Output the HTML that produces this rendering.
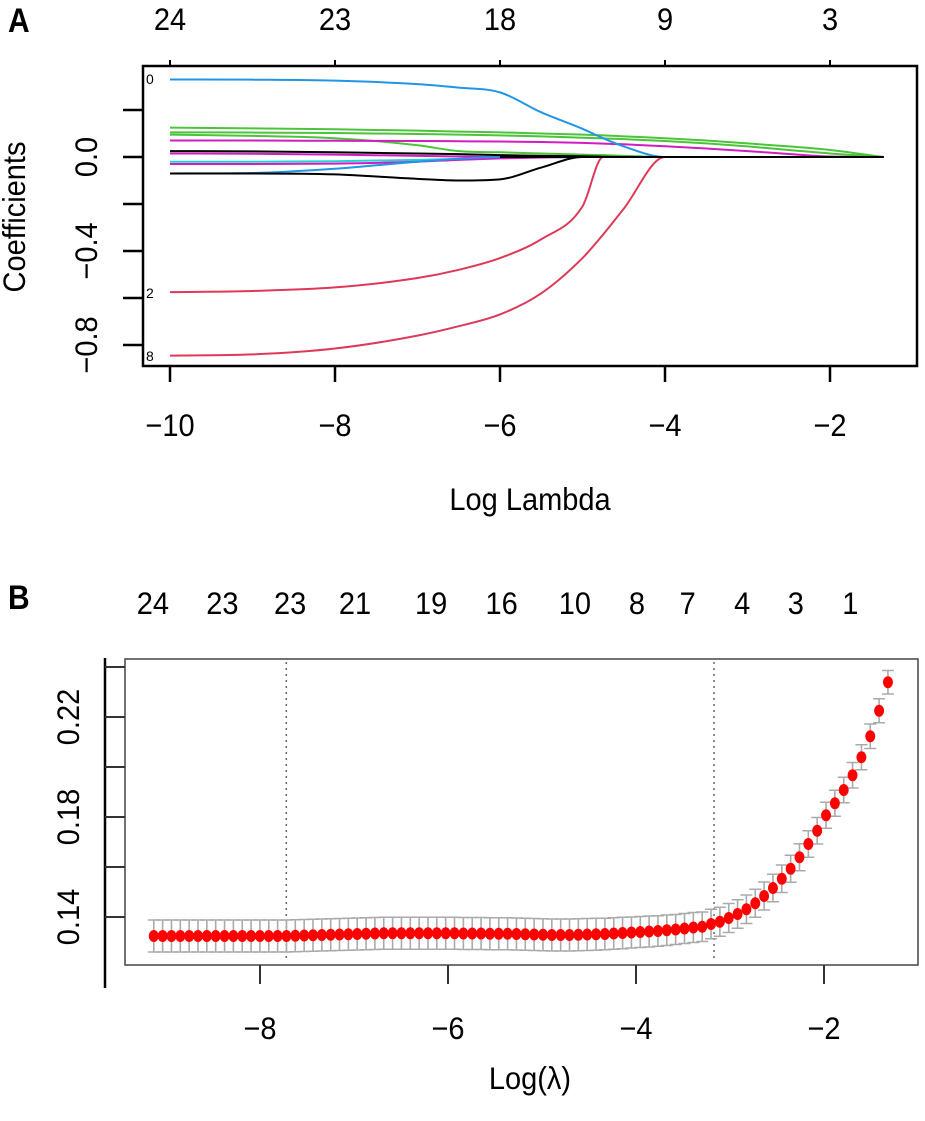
<!DOCTYPE html>
<html><head><meta charset="utf-8"><style>
html,body{margin:0;padding:0;background:#fff;}
svg{display:block;font-family:"Liberation Sans",Arial,sans-serif;}
</style></head><body>
<svg id="fig" width="925" height="1121" viewBox="0 0 925 1121">
<text x="0" y="0" font-size="30" font-weight="bold" font-family="Liberation Sans, sans-serif" transform="translate(8,32) scale(1,1.15)">A</text>
<text x="0" y="0" font-size="30" font-weight="bold" font-family="Liberation Sans, sans-serif" transform="translate(8,609) scale(1,1.15)">B</text>
<g id="pa"></g>
<g id="pb"></g>
</svg>
<script>
// ---------- Panel A data ----------
const aGrid = [-10,-9,-8,-7,-6.5,-6,-5.5,-5,-4.75,-4.5,-4,-3.5,-3,-2.5,-2,-1.35];
const aBlueTop = [0.33,0.329,0.325,0.31,0.295,0.275,0.19,0.12,0.08,0.045,0,0,0,0,0,0];
const aGreen1 = [0.125,0.122,0.118,0.112,0.108,0.105,0.1,0.095,0.092,0.088,0.08,0.07,0.058,0.045,0.03,0];
const aGreen2 = [0.105,0.104,0.102,0.098,0.095,0.092,0.088,0.082,0.079,0.076,0.068,0.058,0.045,0.03,0.015,0];
const aGreen3 = [0.095,0.09,0.08,0.05,0.025,0.02,0.015,0.01,0.008,0.005,0,0,0,0,0,0];
const aMagenta1 = [0.07,0.07,0.069,0.068,0.067,0.066,0.064,0.06,0.057,0.054,0.046,0.036,0.025,0.013,0.002,0];
const aBlack1 = [0.025,0.024,0.02,0.015,0.012,0.008,0.005,0.003,0.001,0,0,0,0,0,0,0];
const aMagenta2 = [0.015,0.014,0.01,0.005,0.002,0,0,0,0,0,0,0,0,0,0,0];
const aCyan = [-0.02,-0.02,-0.018,-0.012,-0.008,-0.004,-0.002,0,0,0,0,0,0,0,0,0];
const aMagenta3 = [-0.03,-0.03,-0.028,-0.02,-0.012,-0.006,-0.002,0,0,0,0,0,0,0,0,0];
const aBlueLow = [-0.07,-0.068,-0.05,-0.02,-0.008,0,0,0,0,0,0,0,0,0,0,0];
const aBlackLow = [-0.07,-0.07,-0.074,-0.093,-0.1,-0.095,-0.045,0,0,0,0,0,0,0,0,0];
const aRed1 = [-0.575,-0.57,-0.555,-0.515,-0.48,-0.43,-0.35,-0.21,0,0,0,0,0,0,0,0];
const aRed2 = [-0.845,-0.84,-0.815,-0.76,-0.72,-0.67,-0.58,-0.43,-0.33,-0.22,0,0,0,0,0,0];
const aXTicks = [-10,-8,-6,-4,-2];
const aTopLabels = ["24","23","18","9","3"];
const aYTicks = [0.2,0,-0.2,-0.4,-0.6,-0.8];
const aYLabels = ["","0.0","","-0.4","","-0.8"];

// ---------- Panel B data ----------
const bLogLambdaStart = -9.13, bLogLambdaStep = 0.0941;
const bMean = [0.1324,0.1324,0.1324,0.1324,0.1324,0.1324,0.1324,0.1324,0.1324,0.1324,0.1324,0.1324,0.1324,0.1324,0.1324,0.1324,
0.1325,0.1326,0.1327,0.1328,0.1329,0.1330,0.1331,0.1332,0.1333,0.1334,
0.1335,0.1335,0.1335,0.1335,0.1335,0.1335,0.1335,0.1335,0.1335,0.1334,0.1334,0.1334,0.1333,0.1333,0.1333,
0.1332,0.1331,0.1330,0.1329,0.1328,0.1328,0.1328,0.1329,0.1330,0.1331,
0.1332,0.1334,0.1336,0.1338,0.1340,0.1342,0.1344,0.1347,0.1350,0.1354,0.1358,
0.1361,0.1372,0.1381,0.1396,0.1412,0.1431,0.1455,0.1484,0.1516,0.1553,0.1593,0.1639,0.1692,0.1745,0.1807,0.1855,0.1908,0.1967,0.2039,0.2123,0.2225,0.2339];
const bSE = [0.0064,0.0064,0.0064,0.0064,0.0064,0.0064,0.0064,0.0064,0.0064,0.0064,0.0064,0.0064,0.0064,0.0064,0.0064,0.0064,
0.0064,0.0064,0.0064,0.0064,0.0064,0.0064,0.0064,0.0064,0.0064,0.0064,
0.0064,0.0064,0.0064,0.0064,0.0064,0.0064,0.0064,0.0064,0.0064,0.0064,0.0064,0.0064,0.0064,0.0064,0.0064,
0.0064,0.0064,0.0064,0.0064,0.0064,0.0064,0.0064,0.0064,0.0064,0.0064,
0.0063,0.0063,0.0063,0.0062,0.0062,0.0062,0.0061,0.0061,0.0060,0.0060,0.0060,
0.0059,0.0059,0.0058,0.0058,0.0057,0.0057,0.0056,0.0056,0.0055,0.0055,0.0054,0.0054,0.0053,0.0053,0.0052,0.0052,0.0051,0.0051,0.0050,0.0049,0.0048,0.0047];
const bXTicks = [-8,-6,-4,-2];
const bYTicks = [0.24,0.22,0.20,0.18,0.16,0.14];
const bYLabels = ["","0.22","","0.18","","0.14"];
const bTopLabels = ["24","23","23","21","19","16","10","8","7","4","3","1"];
const bTopPos = [-9.14,-8.40,-7.68,-6.99,-6.18,-5.43,-4.65,-3.99,-3.45,-2.87,-2.30,-1.72];
const bVlines = [-7.72,-3.17];

const NS="http://www.w3.org/2000/svg";
function mk(p,tag,attrs){const e=document.createElementNS(NS,tag);for(const k in attrs)e.setAttribute(k,attrs[k]);p.appendChild(e);return e;}

// ---------- Panel A ----------
const pa=document.getElementById('pa');
const ax=v=>170+(v+10)*82.5;
const ay=v=>157-v*235;
let e;
e=mk(pa,'rect',{x:143,y:66,width:774,height:300,fill:'none',stroke:'#000','stroke-width':2.5});


function smooth(xs,ys){
  const X=xs.map(ax), Y=ys.map(ay), n=X.length;
  const d=[],m=new Array(n);
  for(let i=0;i<n-1;i++) d.push((Y[i+1]-Y[i])/(X[i+1]-X[i]));
  m[0]=d[0]; m[n-1]=d[n-2];
  for(let i=1;i<n-1;i++){ m[i]=(d[i-1]*d[i]<=0)?0:(d[i-1]+d[i])/2; }
  for(let i=0;i<n-1;i++){
    if(d[i]===0){m[i]=0;m[i+1]=0;continue;}
    const a=m[i]/d[i],b=m[i+1]/d[i],s=a*a+b*b;
    if(s>9){const t=3/Math.sqrt(s);m[i]=t*a*d[i];m[i+1]=t*b*d[i];}
  }
  let p='M'+X[0]+','+Y[0];
  for(let i=0;i<n-1;i++){
    const h=(X[i+1]-X[i])/3;
    p+=' C'+(X[i]+h)+','+(Y[i]+m[i]*h)+' '+(X[i+1]-h)+','+(Y[i+1]-m[i+1]*h)+' '+X[i+1]+','+Y[i+1];
  }
  return p;
}
const series=[
 ['coef-line-magenta-2',aMagenta2,'#d01cc0'],
 ['coef-line-cyan',aCyan,'#22d3d3'],
 ['coef-line-magenta-3',aMagenta3,'#d01cc0'],
 ['coef-line-blue-low',aBlueLow,'#2196e6'],
 ['coef-line-green-3',aGreen3,'#4cc43a'],
 ['coef-line-green-2',aGreen2,'#4cc43a'],
 ['coef-line-green-1',aGreen1,'#4cc43a'],
 ['coef-line-magenta-1',aMagenta1,'#d01cc0'],
 ['coef-line-blue-top',aBlueTop,'#2196e6'],
 ['coef-line-red-1',aRed1,'#dc3a58'],
 ['coef-line-red-2',aRed2,'#dc3a58'],
 ['coef-line-black-1',aBlack1,'#000'],
 ['coef-line-black-low',aBlackLow,'#000'],
];
series.forEach(s=>{
  e=mk(pa,'path',{d:smooth(aGrid,s[1]),fill:'none',stroke:s[2],'stroke-width':2});
  
  
});
e=mk(pa,'line',{x1:ax(-6),y1:ay(0),x2:ax(aGrid[aGrid.length-1]),y2:ay(0),stroke:'#000','stroke-width':2});


aXTicks.forEach((v,i)=>{
  e=mk(pa,'line',{x1:ax(v),y1:366,x2:ax(v),y2:382,stroke:'#000','stroke-width':2.5});
  
  
  e=mk(pa,'text',{x:0,y:0,'font-size':29,'text-anchor':'middle',transform:'translate('+ax(v)+',436) scale(1,1.08)'});e.textContent='\u2212'+Math.abs(v);
  
  
  e=mk(pa,'line',{x1:ax(v),y1:66,x2:ax(v),y2:60,stroke:'#000','stroke-width':2});
  
  
  e=mk(pa,'text',{x:0,y:0,'font-size':29,'text-anchor':'middle',transform:'translate('+ax(v)+',30) scale(1,1.08)'});e.textContent=aTopLabels[i];
  
  
});
aYTicks.forEach((v,i)=>{
  e=mk(pa,'line',{x1:123,y1:ay(v),x2:143,y2:ay(v),stroke:'#000','stroke-width':2.5});
  
  
  if(aYLabels[i]){
    e=mk(pa,'text',{x:0,y:0,'font-size':29,'text-anchor':'middle',transform:'translate(97,'+ay(v)+') rotate(-90) scale(1,1.08)'});
    e.textContent=aYLabels[i].replace('-','\u2212');
    
    
  }
});
[['0',79],['2',293],['8',356]].forEach(t=>{
  e=mk(pa,'text',{x:146,y:t[1]+5,'font-size':14});e.textContent=t[0];
  
  
});
e=mk(pa,'text',{x:0,y:0,'font-size':29,'text-anchor':'middle',transform:'translate(25,217) rotate(-90) scale(1,1.08)'});e.textContent='Coefficients';


e=mk(pa,'text',{x:0,y:0,'font-size':29,'text-anchor':'middle',transform:'translate(530,510) scale(1,1.08)'});e.textContent='Log Lambda';



// ---------- Panel B ----------
const pb=document.getElementById('pb');
const bx=v=>260+(v+8)*94;
const by=v=>917-(v-0.14)*2500;
e=mk(pb,'rect',{x:125,y:659,width:793,height:306,fill:'none',stroke:'#444','stroke-width':1.5});


e=mk(pb,'line',{x1:105,y1:658,x2:105,y2:988,stroke:'#000','stroke-width':2.5});


bVlines.forEach(v=>{
  e=mk(pb,'line',{x1:bx(v),y1:662,x2:bx(v),y2:962,stroke:'#666','stroke-width':1.5,'stroke-dasharray':'2,4'});
  
  
});
bMean.forEach((m,i)=>{
  const lx=bLogLambdaStart+i*bLogLambdaStep, x=bx(lx), y1=by(m+bSE[i]), y2=by(m-bSE[i]);
  e=mk(pb,'path',{d:`M${x},${y1}V${y2}M${x-6},${y1}H${x+6}M${x-6},${y2}H${x+6}`,stroke:'#aaa','stroke-width':1.6,fill:'none'});
  
  
});
bMean.forEach((m,i)=>{
  const lx=bLogLambdaStart+i*bLogLambdaStep;
  e=mk(pb,'ellipse',{cx:bx(lx),cy:by(m),rx:5,ry:6,fill:'#ff0000'});
  
  
});
bXTicks.forEach(v=>{
  e=mk(pb,'line',{x1:bx(v),y1:965,x2:bx(v),y2:984,stroke:'#333','stroke-width':2});
  
  
  e=mk(pb,'text',{x:0,y:0,'font-size':29,'text-anchor':'middle',transform:'translate('+bx(v)+',1039) scale(1,1.08)'});e.textContent='\u2212'+Math.abs(v);
  
  
});
bYTicks.forEach((v,i)=>{
  e=mk(pb,'line',{x1:105,y1:by(v),x2:125,y2:by(v),stroke:'#333','stroke-width':2});
  
  
  if(bYLabels[i]){
    e=mk(pb,'text',{x:0,y:0,'font-size':29,'text-anchor':'middle',transform:'translate(79,'+by(v)+') rotate(-90) scale(1,1.08)'});
    e.textContent=bYLabels[i];
    
    
  }
});
bTopLabels.forEach((t,i)=>{
  e=mk(pb,'text',{x:0,y:0,'font-size':29,'text-anchor':'middle',transform:'translate('+bx(bTopPos[i])+',614) scale(1,1.08)'});e.textContent=t;
  
  
});
e=mk(pb,'text',{x:0,y:0,'font-size':29,'text-anchor':'middle',transform:'translate(530,1089) scale(1,1.08)'});e.textContent='Log(\u03bb)';


</script>
</body></html>
